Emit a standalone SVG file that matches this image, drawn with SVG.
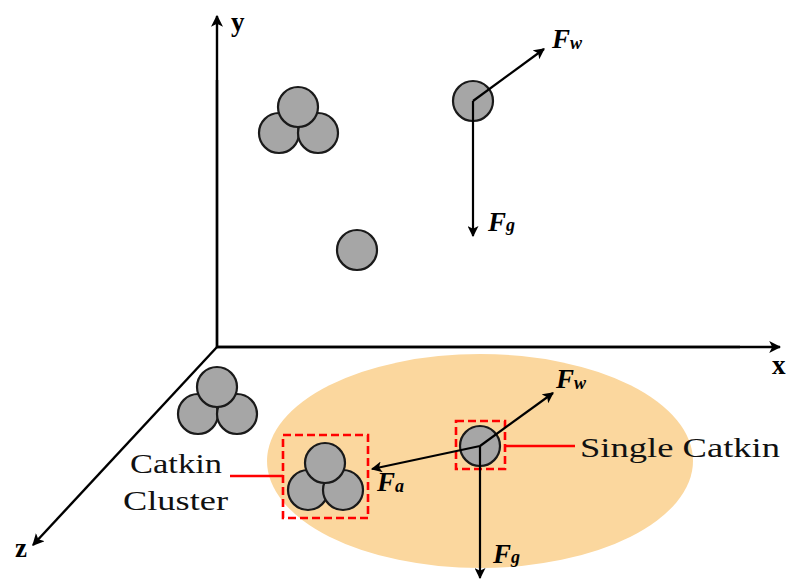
<svg xmlns="http://www.w3.org/2000/svg" width="787" height="579" viewBox="0 0 787 579">
<defs>
<marker id="ah" viewBox="0 0 10 10" refX="9" refY="5" markerWidth="5" markerHeight="5" markerUnits="strokeWidth" orient="auto">
<path d="M0,0 L10,5 L0,10 L2.5,5 Z" fill="#000"/>
</marker>
<style>
.c{fill:#a6a6a6;stroke:#1a1a1a;stroke-width:2.2}
.ax{stroke:#000;stroke-width:2.4;fill:none}
.ar{stroke:#000;stroke-width:2.2;fill:none;marker-end:url(#ah)}
.box{fill:none;stroke:#ff0000;stroke-width:2.6;stroke-dasharray:8 4}
.rl{stroke:#ff0000;stroke-width:2.4}
.al{font-family:"Liberation Serif",serif;font-weight:bold;font-size:27px}
.f{font-family:"Liberation Serif",serif;font-weight:bold;font-style:italic;font-size:27px}
.sub{font-size:18px}
.lab{font-family:"Liberation Serif",serif;font-size:27px;fill:#111}
</style>
</defs>
<rect width="787" height="579" fill="#fff"/>
<g id="ellipse"><ellipse cx="480" cy="461" rx="213" ry="107" fill="#fbd79e"/></g>
<g id="axes">
<polyline class="ax" points="217,80 217,347 740,347"/>
<line class="ar" x1="217" y1="347" x2="217" y2="16" style="stroke-width:2.4"/>
<line class="ar" x1="217" y1="347" x2="780" y2="347" style="stroke-width:2.4"/>
<line class="ar" x1="217" y1="347" x2="33" y2="545" style="stroke-width:2.4"/>
<text class="al" x="231" y="31">y</text>
<text class="al" x="772" y="374">x</text>
<text class="al" x="15" y="557">z</text>
</g>
<g id="cluster-top">
<circle class="c" cx="279" cy="133" r="20"/>
<circle class="c" cx="318" cy="133" r="20"/>
<circle class="c" cx="298" cy="107" r="20"/>
</g>
<g id="cluster-left">
<circle class="c" cx="198" cy="414" r="20"/>
<circle class="c" cx="237" cy="414" r="20"/>
<circle class="c" cx="217" cy="387" r="20"/>
</g>
<g id="catkin-mid"><circle class="c" cx="357" cy="250" r="20"/></g>
<g id="catkin-top">
<circle class="c" cx="473" cy="101" r="20"/>
</g>
<g id="catkin-cluster">
<circle class="c" cx="308" cy="490" r="20"/>
<circle class="c" cx="343" cy="490" r="20"/>
<circle class="c" cx="325" cy="463" r="20"/>
<rect class="box" x="283" y="435" width="85" height="83"/>
</g>
<g id="catkin-single">
<circle class="c" cx="480" cy="446" r="20"/>
<rect class="box" x="456" y="421" width="49" height="48"/>
</g>
<g id="connectors">
<line class="ar" x1="473" y1="101" x2="544" y2="49"/>
<line class="ar" x1="473" y1="101" x2="473" y2="236"/>
<line class="ar" x1="480" y1="446" x2="553" y2="393"/>
<line class="ar" x1="480" y1="446" x2="372" y2="469"/>
<line class="ar" x1="480" y1="446" x2="480" y2="578"/>
<line class="rl" x1="230" y1="476" x2="283" y2="476"/>
<line class="rl" x1="505" y1="446" x2="575" y2="446"/>
</g>
<g id="labels">
<text class="f" x="552" y="48">F<tspan class="sub" dy="1">w</tspan></text>
<text class="f" x="488" y="231">F<tspan class="sub" dy="0">g</tspan></text>
<text class="f" x="556" y="388">F<tspan class="sub" dy="1">w</tspan></text>
<text class="f" x="377" y="491">F<tspan class="sub" dy="1">a</tspan></text>
<text class="f" x="493" y="563">F<tspan class="sub" dy="0">g</tspan></text>
<text class="lab" x="130" y="473" textLength="92" lengthAdjust="spacingAndGlyphs">Catkin</text>
<text class="lab" x="123" y="510" textLength="105" lengthAdjust="spacingAndGlyphs">Cluster</text>
<text class="lab" x="580" y="457" textLength="200" lengthAdjust="spacingAndGlyphs">Single Catkin</text>
</g>
</svg>
